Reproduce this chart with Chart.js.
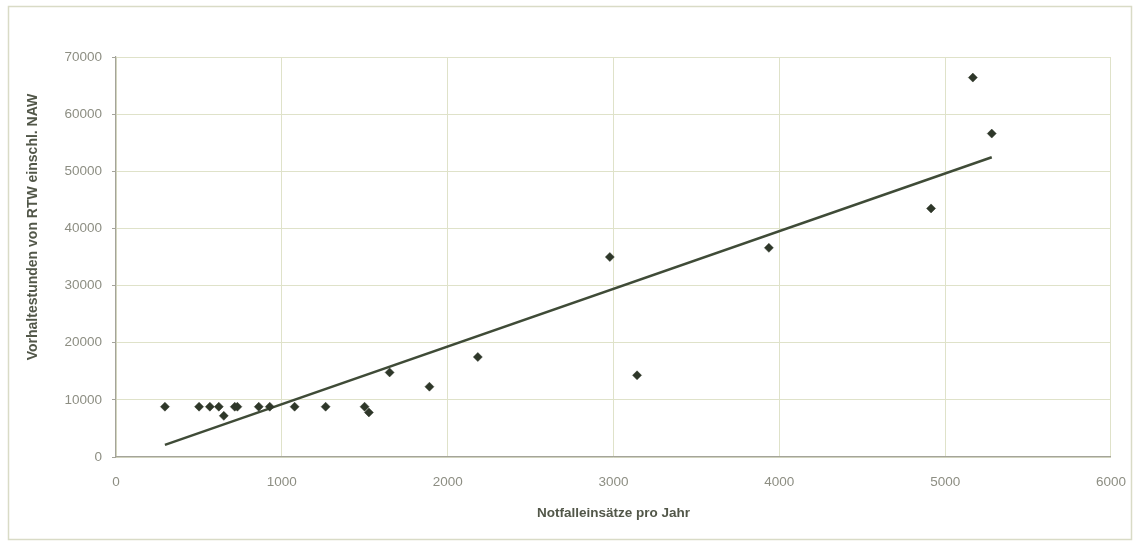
<!DOCTYPE html>
<html lang="de">
<head>
<meta charset="utf-8">
<title>Vorhaltestunden und Notfalleinsätze</title>
<script src="https://cdn.jsdelivr.net/npm/chart.js@4/dist/chart.umd.min.js"></script>
<style>
  html, body { margin: 0; padding: 0; background: #fff; }
  canvas { display: block; }
</style>
</head>
<body>
<canvas id="rtwChart" width="1143" height="543"></canvas>
<script>
// Notfalleinsätze pro Jahr je Wache
var einsaetze = [295, 501, 566, 620, 650, 716, 732, 861, 927, 1077, 1264, 1499, 1525, 1650, 1890, 2182, 2978, 3142, 3937, 4915, 5167, 5281];
// Vorhaltestunden RTW einschl. NAW
var vorhaltestunden = [8800, 8800, 8800, 8800, 7200, 8800, 8800, 8800, 8800, 8800, 8800, 8800, 7800, 14800, 12300, 17500, 35000, 14300, 36600, 43500, 66400, 56600];

var xTickLabels = ['0', '1000', '2000', '3000', '4000', '5000', '6000'];
var yTickLabels = ['0', '10000', '20000', '30000', '40000', '50000', '60000', '70000'];
var yTitel = 'Vorhaltestunden von RTW einschl. NAW';

var punkte = einsaetze.map(function (x, i) {
    return { x: x, y: vorhaltestunden[i] };
});

// lineare Trendlinie (kleinste Quadrate)
var n = einsaetze.length;
var mx = einsaetze.reduce(function (a, b) { return a + b; }, 0) / n;
var my = vorhaltestunden.reduce(function (a, b) { return a + b; }, 0) / n;
var sxy = 0, sxx = 0;
for (var i = 0; i < n; i++) {
    sxy += (einsaetze[i] - mx) * (vorhaltestunden[i] - my);
    sxx += (einsaetze[i] - mx) * (einsaetze[i] - mx);
}
var steigung = sxy / sxx;
var achse = my - steigung * mx;
var xMin = Math.min.apply(null, einsaetze);
var xMax = Math.max.apply(null, einsaetze);
var trend = [
    { x: xMin, y: achse + steigung * xMin },
    { x: xMax, y: achse + steigung * xMax }
];

var schrift = 'Arial, "Liberation Sans", sans-serif';

// weißer Hintergrund, Außenrahmen und die senkrechte Achsenbeschriftung
var rahmen = {
    id: 'rahmen',
    beforeDraw: function (chart) {
        var c = chart.ctx;
        c.save();
        c.fillStyle = '#ffffff';
        c.fillRect(0, 0, chart.width, chart.height);
        c.restore();
    },
    afterDraw: function (chart) {
        var c = chart.ctx;
        c.save();
        c.strokeStyle = '#d9dbc6';
        c.lineWidth = 1.5;
        c.strokeRect(8.5, 6.5, 1123, 533);

        c.translate(33, 227);
        c.rotate(-Math.PI / 2);
        c.fillStyle = '#525749';
        c.font = 'bold 14px ' + schrift;
        c.textAlign = 'center';
        c.textBaseline = 'middle';
        c.fillText(yTitel, 0, 0);
        c.restore();
    }
};

var ctx = document.getElementById('rtwChart').getContext('2d');

new Chart(ctx, {
    type: 'scatter',
    data: {
        datasets: [{
            label: 'Vorhaltestunden',
            data: punkte,
            pointStyle: 'rectRot',
            pointRadius: 4.5,
            pointBackgroundColor: '#2e3729',
            pointBorderColor: '#2e3729',
            pointBorderWidth: 0.5
        }, {
            type: 'line',
            label: 'Linear',
            data: trend,
            borderColor: '#3f4b37',
            borderWidth: 2.5,
            pointRadius: 0,
            fill: false
        }]
    },
    options: {
        responsive: false,
        animation: false,
        layout: {
            padding: { left: 8, top: 57, right: 31, bottom: 0 }
        },
        plugins: {
            legend: { display: false },
            tooltip: { enabled: false }
        },
        scales: {
            x: {
                type: 'linear',
                min: 0,
                max: 6000,
                afterBuildTicks: function (scale) {
                    scale.ticks = xTickLabels.map(function (t) { return { value: Number(t) }; });
                },
                afterFit: function (scale) { scale.height = 86; },
                grid: {
                    color: '#dfe2c9',
                    lineWidth: 1,
                    drawTicks: false
                },
                border: { color: '#a4a49a', width: 1.2 },
                ticks: {
                    padding: 17,
                    color: '#8d8e83',
                    font: { family: schrift, size: 13.5 },
                    maxRotation: 0,
                    callback: function (v, i) { return xTickLabels[i]; }
                },
                title: {
                    display: true,
                    text: 'Notfalleinsätze pro Jahr',
                    color: '#525749',
                    padding: { top: 0, bottom: 22 },
                    font: { family: schrift, size: 13.5, weight: 'bold' }
                }
            },
            y: {
                min: 0,
                max: 70000,
                afterBuildTicks: function (scale) {
                    scale.ticks = yTickLabels.map(function (t) { return { value: Number(t) }; });
                },
                afterFit: function (scale) { scale.width = 108; },
                grid: {
                    color: '#dfe2c9',
                    lineWidth: 1,
                    tickLength: 4,
                    tickColor: '#a4a49a'
                },
                border: { color: '#a4a49a', width: 1.2 },
                ticks: {
                    padding: 10,
                    color: '#8d8e83',
                    font: { family: schrift, size: 13.5 },
                    callback: function (v, i) { return yTickLabels[i]; }
                },
                title: { display: false }
            }
        }
    },
    plugins: [rahmen]
});
</script>
</body>
</html>
